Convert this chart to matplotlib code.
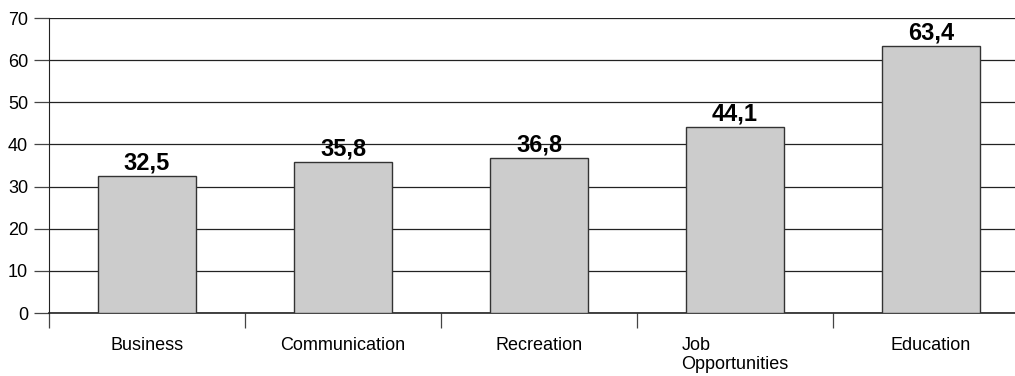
import matplotlib.pyplot as plt
import numpy as np

plt.rcParams['font.family'] = ['Liberation Sans', 'DejaVu Sans']

categorias = ["Business", "Communication", "Recreation", "Job\nOpportunities", "Education"]
valores = [32.5, 35.8, 36.8, 44.1, 63.4]
etiquetas = ["32,5", "35,8", "36,8", "44,1", "63,4"]
yticks = [0, 10, 20, 30, 40, 50, 60, 70]

fig = plt.figure(figsize=(10.15, 3.76), dpi=100)
# el eje se sale por la derecha como en el original (recortado)
ax = fig.add_axes([49 / 1015, 1 - 313 / 376, 980 / 1015, 295 / 376])

x = np.arange(len(categorias))
barras = ax.bar(x, valores, width=0.505, color='#cccccc', edgecolor='#333333', linewidth=1, zorder=3)

for b, txt in zip(barras, etiquetas):
    ax.text(b.get_x() + b.get_width() / 2, b.get_height() + 0.4, txt,
            ha='center', va='bottom', fontsize=17, fontweight='bold', zorder=4)

ax.set_xlim(-0.5, len(categorias) - 0.5)
ax.set_ylim(0, 70)
ax.set_yticks(yticks)
ax.set_yticklabels([str(v) for v in yticks], fontsize=13)
ax.yaxis.grid(True, color='#222222', linewidth=0.9, zorder=0)

ax.set_xticks(x)
ax.set_xticklabels(categorias, fontsize=13, multialignment='left')
ax.set_xticks(np.arange(-0.5, len(categorias)), minor=True)
ax.tick_params(axis='x', which='major', length=0, pad=17)
ax.tick_params(axis='x', which='minor', length=11, width=0.9, color='#444444')
ax.tick_params(axis='y', length=11, width=0.9, color='#444444', pad=4)

for s in ['top', 'right']:
    ax.spines[s].set_visible(False)
ax.spines['left'].set_color('#222222')
ax.spines['bottom'].set_color('#222222')
ax.spines['bottom'].set_linewidth(1.2)

fig.savefig('out.png', dpi=100)
